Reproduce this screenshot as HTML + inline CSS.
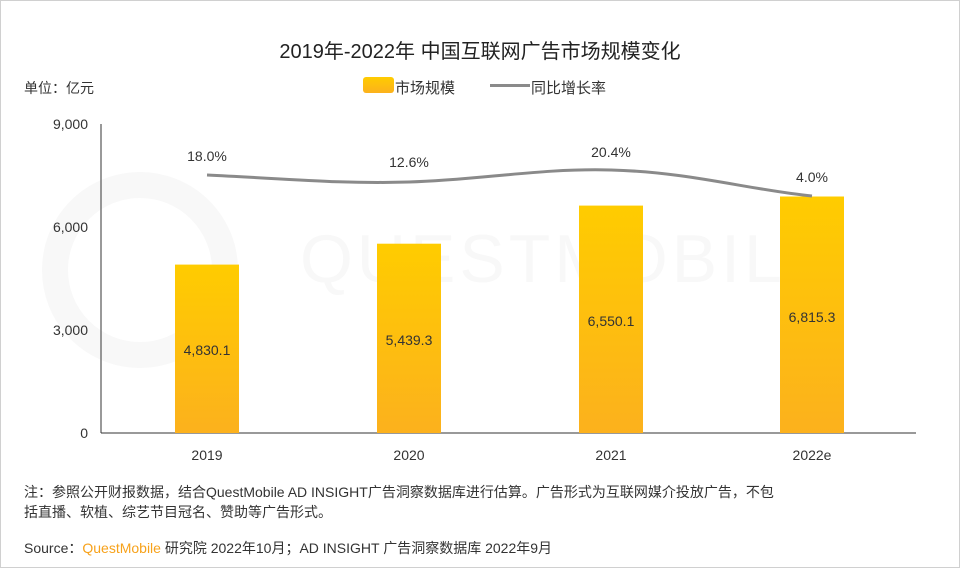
<!DOCTYPE html><html><head><meta charset="utf-8"><style>
body{margin:0;width:960px;height:568px;background:#fff;overflow:hidden;font-family:"Liberation Sans","Noto Sans CJK SC",sans-serif;}
</style></head><body>
<svg width="960" height="568" xmlns="http://www.w3.org/2000/svg" font-family="Liberation Sans, Noto Sans CJK SC, sans-serif">
<defs><linearGradient id="g" x1="0" y1="0" x2="0" y2="1"><stop offset="0" stop-color="#ffcc00"/><stop offset="1" stop-color="#fcb11d"/></linearGradient></defs>
<rect x="0.5" y="0.5" width="959" height="567" fill="#fff" stroke="#d0d0d0"/>
<text x="300" y="282" font-size="68" fill="#f8f8f8" letter-spacing="4">QUESTMOBILE</text>
<circle cx="140" cy="270" r="85" fill="none" stroke="#f8f8f8" stroke-width="26"/>
<text x="480" y="58" font-size="20" fill="#222" text-anchor="middle">2019年-2022年 中国互联网广告市场规模变化</text>
<text x="24" y="93" font-size="14" fill="#333">单位：亿元</text>
<rect x="363" y="77" width="31" height="16" rx="3" fill="url(#g)"/>
<text x="395" y="93" font-size="15" fill="#333">市场规模</text>
<rect x="490" y="84" width="40" height="3" fill="#8a8a8a"/>
<text x="531" y="93" font-size="15" fill="#333">同比增长率</text>
<g font-size="14" fill="#333" text-anchor="end">
<text x="88" y="129">9,000</text><text x="88" y="232">6,000</text><text x="88" y="335">3,000</text><text x="88" y="438">0</text></g>
<line x1="101" y1="124" x2="101" y2="433" stroke="#333"/>
<line x1="101" y1="433" x2="916" y2="433" stroke="#333"/>
<g fill="url(#g)">
<rect x="175" y="264.6" width="64" height="168.4"/>
<rect x="377" y="243.7" width="64" height="189.3"/>
<rect x="579" y="205.6" width="64" height="227.4"/>
<rect x="780" y="196.5" width="64" height="236.5"/></g>
<g font-size="14" fill="#333" text-anchor="middle">
<text x="207" y="355">4,830.1</text><text x="409" y="345">5,439.3</text><text x="611" y="326">6,550.1</text><text x="812" y="322">6,815.3</text>
<text x="207" y="460">2019</text><text x="409" y="460">2020</text><text x="611" y="460">2021</text><text x="812" y="460">2022e</text>
<text x="207" y="161">18.0%</text><text x="409" y="167">12.6%</text><text x="611" y="157">20.4%</text><text x="812" y="182">4.0%</text></g>
<path d="M207,175 C290,179 340,184 409,182 C480,180 540,168 611,170 C690,172 750,190 812,196" fill="none" stroke="#8a8a8a" stroke-width="3"/>
<text x="24" y="497" font-size="14" fill="#333">注：参照公开财报数据，结合QuestMobile AD INSIGHT广告洞察数据库进行估算。广告形式为互联网媒介投放广告，不包</text>
<text x="24" y="517" font-size="14" fill="#333">括直播、软植、综艺节目冠名、赞助等广告形式。</text>
<text x="24" y="553" font-size="14" fill="#333">Source：<tspan fill="#f7a21b">QuestMobile</tspan> 研究院 2022年10月；AD INSIGHT 广告洞察数据库 2022年9月</text>
</svg>
</body></html>
